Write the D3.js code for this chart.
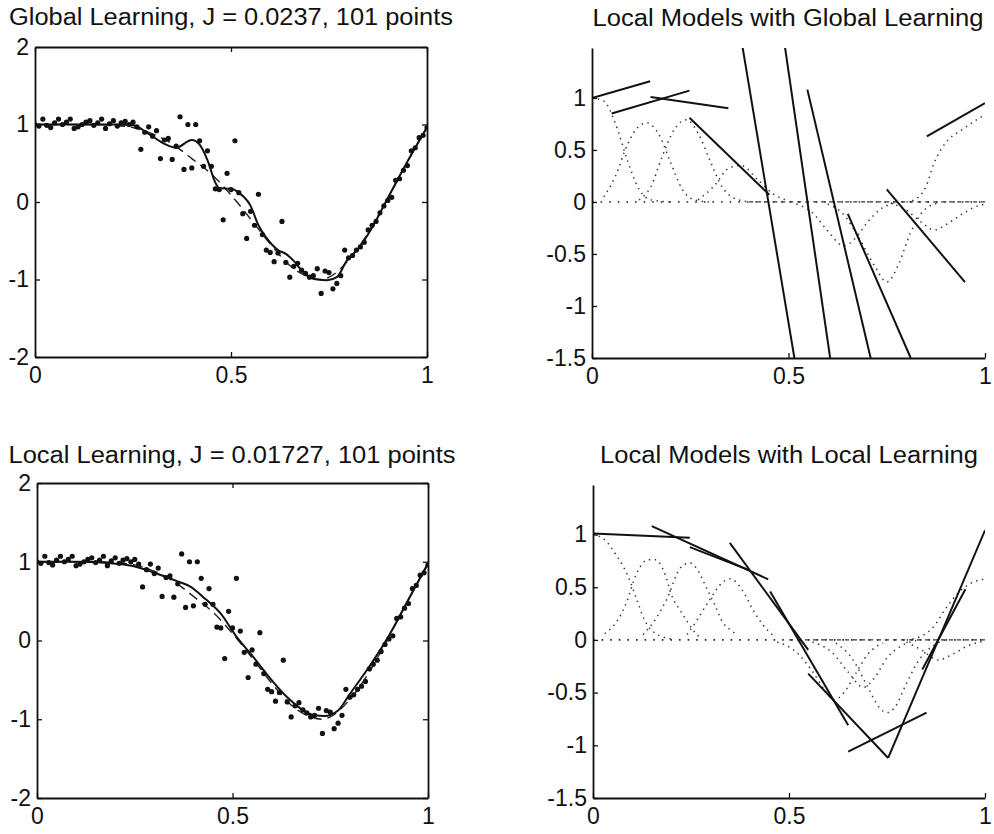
<!DOCTYPE html>
<html>
<head>
<meta charset="utf-8">
<script src="https://cdn.jsdelivr.net/npm/d3@7"></script>
<style>
  body { margin: 0; background: #fff; }
  svg { display: block; }
</style>
</head>
<body>
<div id="fig"></div>
<script>
// ---- data ----
const xTicks = [0, 0.5, 1];
const fitYTicks = [-2, -1, 0, 1, 2];
const modelYTicks = [-1.5, -1, -0.5, 0, 0.5, 1];

const titles = [
  "Global Learning, J = 0.0237, 101 points",
  "Local Models with Global Learning",
  "Local Learning, J = 0.01727, 101 points",
  "Local Models with Local Learning"
];

// noisy training samples (same in both left panels)
const sampleX = [0,0.01,0.02,0.03,0.04,0.05,0.06,0.07,0.08,0.09,0.1,0.11,0.12,0.13,0.14,0.15,0.16,0.17,0.18,0.19,0.2,
  0.21,0.22,0.23,0.24,0.25,0.26,0.27,0.28,0.29,0.3,0.31,0.32,0.33,0.34,0.35,0.36,0.37,0.38,0.39,0.4,
  0.41,0.42,0.43,0.44,0.45,0.46,0.47,0.48,0.49,0.5,0.51,0.52,0.53,0.54,0.55,0.56,0.57,0.58,0.59,0.6,
  0.61,0.62,0.63,0.64,0.65,0.66,0.67,0.68,0.69,0.7,0.71,0.72,0.73,0.74,0.75,0.76,0.77,0.78,0.79,0.8,
  0.81,0.82,0.83,0.84,0.85,0.86,0.87,0.88,0.89,0.9,0.91,0.92,0.93,0.94,0.95,0.96,0.97,0.98,0.99,1];
const sampleY = [1.00,0.98,1.07,0.99,0.96,1.02,1.07,1.00,1.03,1.07,0.95,0.97,1.00,1.03,1.05,0.99,1.02,1.07,0.95,1.01,1.05,
  0.98,1.02,1.04,1.00,1.03,0.97,0.68,0.90,0.97,0.85,0.92,0.56,0.80,0.82,0.55,0.72,1.10,0.42,1.00,0.44,
  1.00,0.79,0.46,0.66,0.46,0.17,0.16,-0.23,0.37,0.16,0.79,0.12,-0.15,-0.47,-0.12,-0.30,0.10,-0.42,-0.62,-0.65,
  -0.77,-0.66,-0.25,-0.78,-0.97,-0.83,-0.79,-0.88,-0.92,-0.97,-0.95,-0.86,-1.18,-0.89,-0.91,-1.12,-1.05,-0.95,-0.62,-0.72,
  -0.69,-0.62,-0.58,-0.52,-0.36,-0.30,-0.25,-0.14,-0.05,0.02,0.06,0.28,0.30,0.41,0.47,0.66,0.70,0.83,0.86,0.96];

// true function (dashed)
const trueX = [0,0.05,0.1,0.15,0.2,0.25,0.3,0.35,0.4,0.45,0.5,0.55,0.6,0.65,0.7,0.73,0.75,0.8,0.85,0.9,0.95,1];
const trueY = [1,1,1,1,0.99,0.96,0.88,0.75,0.56,0.36,0.09,-0.22,-0.54,-0.82,-0.97,-1.0,-0.97,-0.75,-0.4,0.05,0.52,0.97];

// global learning prediction (solid, top left)
const globalFitX = [0,0.05,0.1,0.15,0.2,0.25,0.29,0.33,0.36,0.4,0.42,0.44,0.46,0.47,0.5,0.52,0.55,0.57,0.59,0.62,0.64,0.66,0.68,0.7,0.72,0.745,0.77,0.795,0.83,0.86,0.9,0.94,0.97,1];
const globalFitY = [1,1,1,1,1,0.99,0.88,0.75,0.70,0.80,0.74,0.54,0.25,0.18,0.17,0.12,-0.05,-0.3,-0.46,-0.62,-0.67,-0.76,-0.88,-0.97,-1.0,-1.01,-0.97,-0.76,-0.57,-0.33,0.05,0.43,0.70,0.96];

// local learning prediction (solid, bottom left)
const localFitX = [0,0.1,0.21,0.25,0.3,0.36,0.39,0.43,0.47,0.51,0.55,0.58,0.64,0.71,0.735,0.77,0.8,0.85,0.9,0.95,1];
const localFitY = [1,1,0.97,0.94,0.86,0.75,0.69,0.53,0.34,0.05,-0.19,-0.38,-0.72,-0.95,-0.96,-0.89,-0.68,-0.33,0.06,0.52,0.98];

// receptive-field weighted curves (dotted), global learning
const globalRF = [
  [[0,1.0],[0.03,0.97],[0.06,0.75],[0.09,0.4],[0.12,0.12],[0.15,0.02],[0.2,0]],
  [[0.03,0.05],[0.06,0.25],[0.09,0.55],[0.12,0.73],[0.14,0.76],[0.17,0.65],[0.2,0.38],[0.23,0.12],[0.26,0.02],[0.3,0]],
  [[0.12,0.02],[0.15,0.15],[0.18,0.45],[0.21,0.7],[0.24,0.79],[0.27,0.66],[0.3,0.4],[0.33,0.15],[0.36,0.04],[0.4,0]],
  [[0.27,0.02],[0.31,0.15],[0.35,0.33],[0.38,0.35],[0.42,0.22],[0.46,0.08],[0.5,0.01]],
  [[0.52,-0.02],[0.56,-0.1],[0.6,-0.28],[0.64,-0.42],[0.67,-0.35],[0.7,-0.2],[0.73,-0.08],[0.77,-0.01]],
  [[0.6,-0.02],[0.64,-0.12],[0.68,-0.35],[0.72,-0.62],[0.75,-0.77],[0.78,-0.6],[0.81,-0.3],[0.84,-0.1],[0.88,-0.01]],
  [[0.76,-0.01],[0.8,-0.08],[0.84,-0.2],[0.87,-0.27],[0.9,-0.22],[0.94,-0.12],[0.98,-0.04],[1,-0.02]],
  [[0.8,0],[0.82,0.02],[0.85,0.15],[0.87,0.37],[0.9,0.57],[0.94,0.69],[1,0.84]]
];
// local linear models (solid segments), global learning: [x1, y1, x2, y2]
const globalModels = [
  [0, 1.0, 0.148, 1.16],
  [0.05, 0.85, 0.248, 1.07],
  [0.149, 1.01, 0.347, 0.90],
  [0.248, 0.81, 0.451, 0.07],
  [0.383, 1.49, 0.515, -1.5],
  [0.491, 1.49, 0.606, -1.5],
  [0.548, 1.08, 0.709, -1.5],
  [0.651, -0.115, 0.811, -1.5],
  [0.75, 0.12, 0.949, -0.77],
  [0.852, 0.63, 1.0, 0.95]
];

// receptive-field weighted curves (dotted), local learning
const localRF = [
  [[0,1.0],[0.03,0.95],[0.06,0.80],[0.09,0.6],[0.11,0.4],[0.13,0.2],[0.16,0.06],[0.2,0.01]],
  [[0.03,0.06],[0.065,0.2],[0.086,0.36],[0.11,0.62],[0.14,0.76],[0.16,0.76],[0.184,0.62],[0.2,0.43],[0.226,0.26],[0.252,0.11],[0.27,0.03]],
  [[0.128,0.05],[0.16,0.2],[0.19,0.4],[0.222,0.68],[0.247,0.73],[0.264,0.68],[0.29,0.49],[0.311,0.33],[0.332,0.16],[0.349,0.1],[0.37,0.04]],
  [[0.24,0.05],[0.264,0.18],[0.294,0.36],[0.332,0.55],[0.35,0.58],[0.383,0.46],[0.409,0.28],[0.434,0.14],[0.46,0.04]],
  [[0.47,-0.02],[0.52,-0.12],[0.56,-0.3],[0.59,-0.47],[0.615,-0.57],[0.64,-0.5],[0.67,-0.32],[0.7,-0.14],[0.74,-0.03]],
  [[0.56,-0.02],[0.61,-0.12],[0.65,-0.3],[0.69,-0.45],[0.72,-0.35],[0.75,-0.17],[0.79,-0.05],[0.83,0]],
  [[0.62,-0.03],[0.66,-0.17],[0.7,-0.44],[0.73,-0.64],[0.75,-0.69],[0.77,-0.64],[0.8,-0.41],[0.83,-0.2],[0.87,-0.05],[0.9,0]],
  [[0.8,-0.02],[0.84,-0.1],[0.88,-0.19],[0.92,-0.13],[0.96,-0.05],[1,-0.01]],
  [[0.8,0],[0.84,0.04],[0.87,0.13],[0.9,0.3],[0.93,0.44],[0.96,0.53],[1,0.58]]
];
// local linear models (solid segments), local learning
const localModels = [
  [0, 1.01, 0.247, 0.97],
  [0.15, 1.08, 0.447, 0.575],
  [0.247, 0.88, 0.4, 0.66],
  [0.349, 0.92, 0.549, -0.095],
  [0.452, 0.46, 0.651, -0.81],
  [0.549, -0.32, 0.753, -1.12],
  [0.753, -1.12, 1.0, 1.04],
  [0.651, -1.06, 0.851, -0.69],
  [0.84, -0.28, 0.95, 0.48]
];

// x ranges of the dotted / dashed lines lying on y = 0
const globalZeroDotted = [0, 1];
const globalZeroDashed = [0.4, 1];
const localZeroDotted = [0, 1];
const localZeroDashed = [0.5, 1];

// ---- drawing ----
const W = 994, H = 834;
const font = "'Liberation Sans', Arial, Helvetica, sans-serif";

const svg = d3.select("#fig").append("svg")
  .attr("width", W).attr("height", H)
  .attr("viewBox", `0 0 ${W} ${H}`);

function makePanel(id, box, yDomain, yTicks, title, titleX, titleY, titleLen) {
  const x = d3.scaleLinear().domain([0, 1]).range([box.left, box.right]);
  const y = d3.scaleLinear().domain(yDomain).range([box.bottom, box.top]);

  svg.append("clipPath").attr("id", id)
    .append("rect")
    .attr("x", box.left).attr("y", box.top)
    .attr("width", box.right - box.left).attr("height", box.bottom - box.top);

  const g = svg.append("g");
  const plot = g.append("g").attr("clip-path", `url(#${id})`);

  const fmt = d => String(d);
  const styleAxis = sel => {
    sel.selectAll("path.domain").attr("stroke", "#111").attr("stroke-width", 1.8);
    sel.selectAll(".tick line").attr("stroke", "#111").attr("stroke-width", 1.3);
    sel.selectAll("text").attr("font-family", font).attr("font-size", 23).attr("fill", "#111");
  };

  g.append("g").attr("transform", `translate(${box.left},0)`)
    .call(d3.axisLeft(y).tickValues(yTicks).tickFormat(fmt).tickSizeInner(-5).tickSizeOuter(0).tickPadding(6))
    .call(styleAxis);
  g.append("g").attr("transform", `translate(0,${box.bottom})`)
    .call(d3.axisBottom(x).tickValues(xTicks).tickFormat(fmt).tickSizeInner(-5).tickSizeOuter(0).tickPadding(10))
    .call(styleAxis);

  if (box.closed) {
    g.append("g").attr("transform", `translate(${box.right},0)`)
      .call(d3.axisRight(y).tickValues(yTicks).tickFormat(() => "").tickSizeInner(-5).tickSizeOuter(0))
      .call(styleAxis);
    g.append("g").attr("transform", `translate(0,${box.top})`)
      .call(d3.axisTop(x).tickValues(xTicks).tickFormat(() => "").tickSizeInner(-5).tickSizeOuter(0))
      .call(styleAxis);
  }

  g.append("text")
    .attr("x", titleX).attr("y", titleY)
    .attr("text-anchor", "middle")
    .attr("font-family", font).attr("font-size", 23).attr("fill", "#111")
    .attr("textLength", titleLen).attr("lengthAdjust", "spacingAndGlyphs")
    .text(title);

  return {x, y, plot};
}

function fitPanel(p, fitX, fitY) {
  const lineGen = d3.line().x(d => p.x(d[0])).y(d => p.y(d[1])).curve(d3.curveMonotoneX);

  p.plot.append("path")
    .datum(d3.zip(trueX, trueY))
    .attr("fill", "none").attr("stroke", "#222").attr("stroke-width", 1.4)
    .attr("stroke-dasharray", "10,6")
    .attr("d", lineGen);

  p.plot.append("path")
    .datum(d3.zip(fitX, fitY))
    .attr("fill", "none").attr("stroke", "#111").attr("stroke-width", 2)
    .attr("d", lineGen);

  p.plot.selectAll("circle.sample")
    .data(d3.zip(sampleX, sampleY))
    .join("circle")
    .attr("class", "sample")
    .attr("cx", d => p.x(d[0])).attr("cy", d => p.y(d[1]))
    .attr("r", 2.6).attr("fill", "#111");
}

function modelPanel(p, rf, models, zeroDotted, zeroDashed) {
  const lineGen = d3.line().x(d => p.x(d[0])).y(d => p.y(d[1])).curve(d3.curveMonotoneX);

  p.plot.append("path")
    .datum([[zeroDotted[0], 0], [zeroDotted[1], 0]])
    .attr("fill", "none").attr("stroke", "#222").attr("stroke-width", 1.6)
    .attr("stroke-dasharray", "1.6,7")
    .attr("d", lineGen);
  p.plot.append("path")
    .datum([[zeroDashed[0], 0], [zeroDashed[1], 0]])
    .attr("fill", "none").attr("stroke", "#333").attr("stroke-width", 1.3)
    .attr("stroke-dasharray", "4,4")
    .attr("d", lineGen);

  p.plot.selectAll("path.rf")
    .data(rf)
    .join("path")
    .attr("class", "rf")
    .attr("fill", "none").attr("stroke", "#333").attr("stroke-width", 1.5)
    .attr("stroke-dasharray", "1.4,4.5")
    .attr("d", lineGen);

  p.plot.selectAll("line.model")
    .data(models)
    .join("line")
    .attr("class", "model")
    .attr("x1", d => p.x(d[0])).attr("y1", d => p.y(d[1]))
    .attr("x2", d => p.x(d[2])).attr("y2", d => p.y(d[3]))
    .attr("stroke", "#111").attr("stroke-width", 2);
}

const tl = makePanel("clipTL", {left: 35, right: 427, top: 47, bottom: 357, closed: true},
  [-2, 2], fitYTicks, titles[0], 231, 25, 444);
fitPanel(tl, globalFitX, globalFitY);

const tr = makePanel("clipTR", {left: 592, right: 985, top: 48, bottom: 358, closed: false},
  [-1.5, 1.48], modelYTicks, titles[1], 788, 26, 391);
modelPanel(tr, globalRF, globalModels, globalZeroDotted, globalZeroDashed);

const bl = makePanel("clipBL", {left: 37, right: 428, top: 483, bottom: 798, closed: true},
  [-2, 2], fitYTicks, titles[2], 232, 463, 447);
fitPanel(bl, localFitX, localFitY);

const br = makePanel("clipBR", {left: 593, right: 985, top: 485, bottom: 798, closed: false},
  [-1.5, 1.47], modelYTicks, titles[3], 789, 463, 378);
modelPanel(br, localRF, localModels, localZeroDotted, localZeroDashed);
</script>
</body>
</html>
